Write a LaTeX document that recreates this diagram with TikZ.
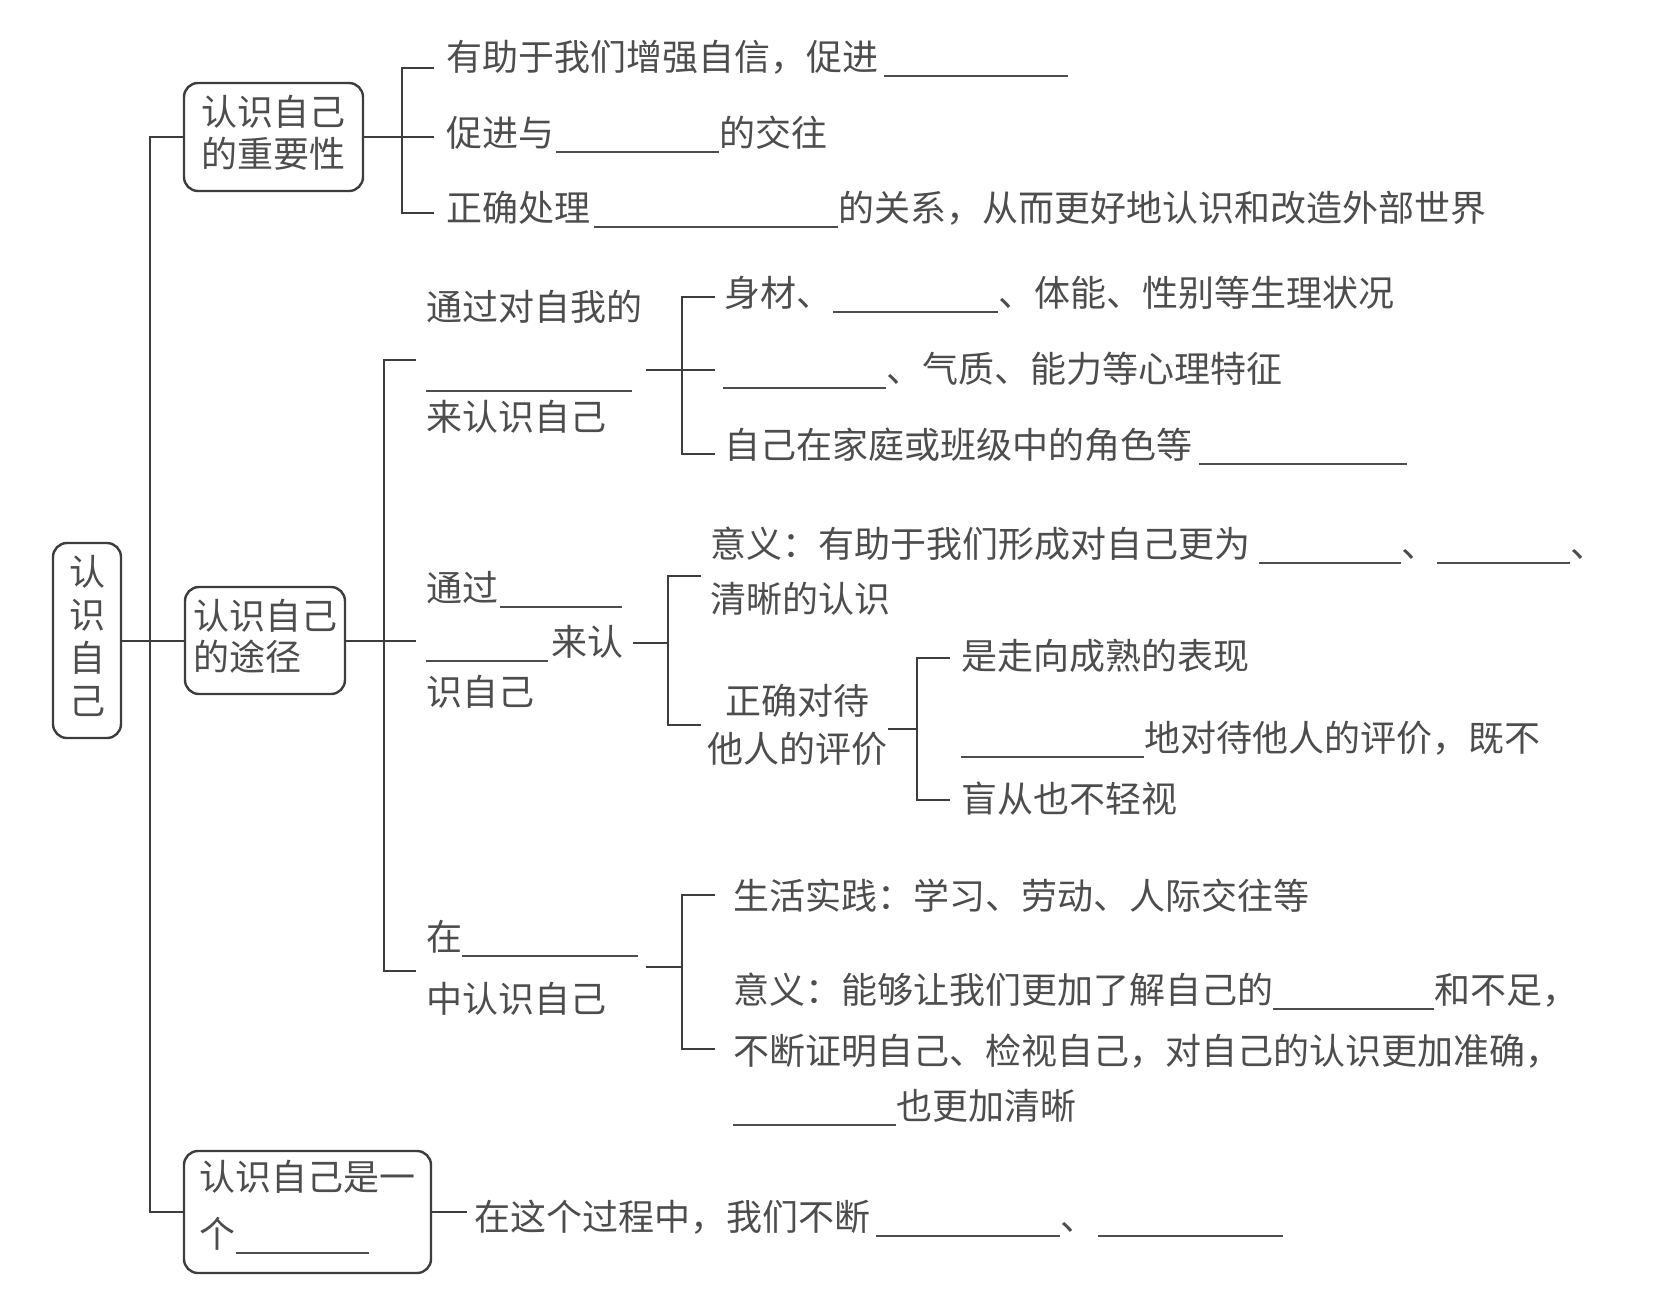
\documentclass[tikz,border=0pt]{standalone}
\usepackage{fontspec}
\newfontfamily\cjk{Noto Sans CJK SC}
\usetikzlibrary{positioning}

\definecolor{ink}{HTML}{3D3D3D}
\definecolor{inktext}{HTML}{4D4D4D}
\newcommand{\fillgap}[1]{\rule[-7pt]{#1pt}{1.6pt}}
\newcommand{\topst}{\rule{0pt}{32pt}}
\newcommand{\botst}[1][14]{\rule[-#1pt]{0pt}{#1pt}}

\tikzset{
	box/.style={draw=ink, line width=2.4pt, rounded corners=14pt, inner sep=0pt, text=inktext, align=left, font=\cjk\fontsize{36}{42}\selectfont},
	item/.style={anchor=base west, inner sep=0pt, text=inktext, font=\cjk\fontsize{36}{44}\selectfont},
	link/.style={draw=ink, line width=2pt},
}

\begin{document}
\begin{tikzpicture}[x=1pt, y=-1pt]

		% === page bounds ===
		\useasboundingbox (0,0) rectangle (1657,1296);

		% === boxes ===
		\node[box, align=center, minimum width=68pt, minimum height=195pt, font=\cjk\fontsize{36}{43}\selectfont] (root) at (87,640.5) {\topst{}认\\识\\自\\己\botst{}};
		\node[box, minimum width=179pt, minimum height=108pt] (imp) at (273.5,137) {\topst{}认识自己\\的重要性\botst{}};
		\node[box, minimum width=160pt, minimum height=107pt, font=\cjk\fontsize{36}{41}\selectfont] (way) at (265,640.5) {\topst{}认识自己\\的途径\botst{}};
		\node[box, minimum width=247pt, minimum height=122pt, font=\cjk\fontsize{36}{57}\selectfont] (proc) at (307.5,1212) {\topst{}认识自己是一\\个\fillgap{133}\botst[19]{}};

		% === trunk ===
		\draw[link] (imp.west) -- ++(-33,0) |- (proc.west);
		\draw[link] (root.east) -- (way.west);

		% === importance ===
		\coordinate (i1) at (434,68);
		\coordinate (i3) at (434,213);
		\draw[link] (imp.east) -- (imp.east -| i1);
		\draw[link] (i1) -- ++(-32,0) |- (i3);
		\node[item] (t11) at (446,70) {有助于我们增强自信，促进\kern6pt\fillgap{184}};
		\node[item] (t12) at (446,146) {促进与\kern2pt\fillgap{163}的交往};
		\node[item] (t13) at (446,221) {正确处理\kern4pt\fillgap{244}的关系，从而更好地认识和改造外部世界};

		% === ways ===
		\coordinate (w1) at (416,360);
		\coordinate (w3) at (416,971);
		\draw[link] (way.east) -- (way.east -| w1);
		\draw[link] (w1) -- ++(-32,0) |- (w3);

		% way 1
		\node[item] (u11) at (426,320) {通过对自我的};
		\node[item] (u12) at (426,385) {\fillgap{206}};
		\node[item] (u13) at (426,430) {来认识自己};
		\coordinate (p0) at (646,370);
		\coordinate (p1) at (715,297);
		\coordinate (p3) at (715,454);
		\draw[link] (p0) -- (p0 -| p1);
		\draw[link] (p1) -- ++(-33,0) |- (p3);
		\node[item] (v11) at (724,306) {身材、\kern1pt\fillgap{165}、体能、性别等生理状况};
		\node[item] (v12) at (723,382) {\fillgap{163}、气质、能力等心理特征};
		\node[item] (v13) at (724,458) {自己在家庭或班级中的角色等\kern7pt\fillgap{208}};

		% way 2
		\node[item] (u21) at (426,601) {通过\kern2pt\fillgap{122}};
		\node[item] (u22) at (426,655) {\fillgap{122}\kern3pt来认};
		\node[item] (u23) at (426,705) {识自己};
		\coordinate (q0) at (633,643);
		\coordinate (q1) at (701,576);
		\coordinate (q3) at (701,725);
		\draw[link] (q0) -- ++(35,0);
		\draw[link] (q1) -- ++(-33,0) |- (q3);
		\node[item] (w11) at (710,557) {意义：有助于我们形成对自己更为\kern9pt\fillgap{142}、\fillgap{133}、};
		\node[item] (w12) at (710,612) {清晰的认识};
		\node[box, draw=none, align=center, font=\cjk\fontsize{36}{48}\selectfont] (eval) at (797,729) {\topst{}正确对待\\他人的评价\botst{}};
		\coordinate (e1) at (950,658);
		\coordinate (e3) at (950,800);
		\draw[link] (eval.east) -- ++(30,0);
		\draw[link] (e1) -- ++(-33,0) |- (e3);
		\node[item] (w13) at (961,669) {是走向成熟的表现};
		\node[item] (w14) at (961,751) {\fillgap{183}地对待他人的评价，既不};
		\node[item] (w15) at (961,812) {盲从也不轻视};

		% way 3
		\node[item] (u31) at (426,950) {在\fillgap{176}};
		\node[item] (u32) at (426,1012) {中认识自己};
		\coordinate (r0) at (646,967);
		\coordinate (r1) at (715,895);
		\coordinate (r3) at (715,1049);
		\draw[link] (r0) -- ++(36,0);
		\draw[link] (r1) -- ++(-33,0) |- (r3);
		\node[item] (x11) at (733,909) {生活实践：学习、劳动、人际交往等};
		\node[item] (x12) at (733,1003) {意义：能够让我们更加了解自己的\fillgap{161}和不足，};
		\node[item] (x13) at (733,1064) {不断证明自己、检视自己，对自己的认识更加准确，};
		\node[item] (x14) at (733,1119) {\fillgap{163}也更加清晰};

		% === process ===
		\draw[link] (proc.east) -- ++(35,0);
		\node[item] (y11) at (474,1230) {在这个过程中，我们不断\kern6pt\fillgap{184}、\kern2pt\fillgap{185}};
	\end{tikzpicture}
\end{document}
